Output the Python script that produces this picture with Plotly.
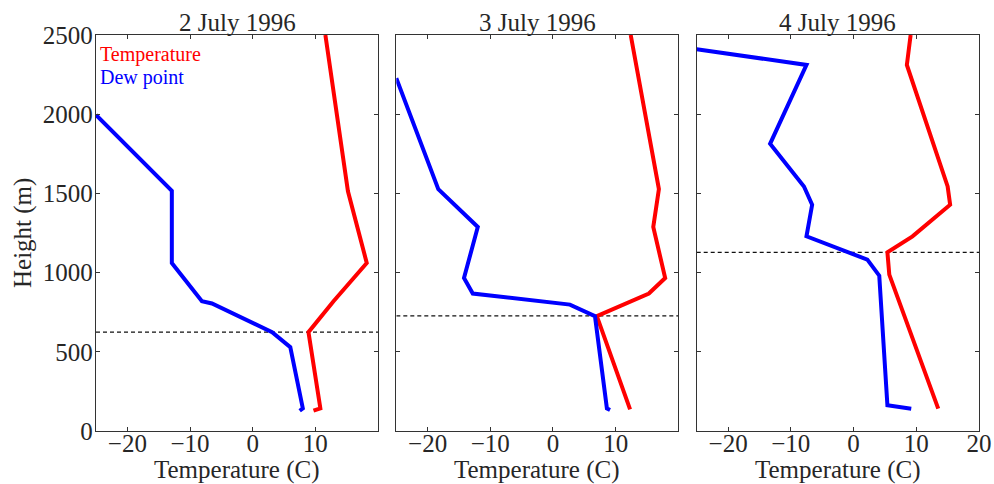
import plotly.graph_objects as go

# ---- data ----
days = ["2 July 1996", "3 July 1996", "4 July 1996"]

jul2_temp_h = [128, 143, 624, 819, 1061, 1513, 2500]
jul2_temp = [9.7, 10.8, 8.9, 12.9, 18.2, 15.2, 11.6]
jul2_dew_h = [128, 143, 529, 624, 805, 819, 1061, 1517, 1995]
jul2_dew = [7.5, 8.0, 6.0, 3.1, -6.5, -8.1, -12.9, -12.9, -25.0]

jul3_temp_h = [137, 725, 868, 966, 1288, 1527, 2500]
jul3_temp = [12.3, 7.0, 15.3, 17.9, 16.0, 16.9, 12.4]
jul3_dew_h = [133, 143, 725, 798, 868, 966, 1288, 1512, 1527, 2227]
jul3_dew = [9.1, 8.6, 6.7, 2.7, -12.8, -14.2, -12.0, -18.0, -18.3, -25.0]

jul4_temp_h = [141, 987, 1128, 1229, 1428, 1544, 2311, 2500]
jul4_temp = [13.5, 5.7, 5.4, 9.4, 15.4, 15.0, 8.5, 9.1]
jul4_dew_h = [141, 162, 981, 1082, 1229, 1428, 1544, 1813, 2311, 2410]
jul4_dew = [9.2, 5.4, 4.1, 2.2, -7.5, -6.6, -7.9, -13.3, -7.5, -25.0]

cloud_base = [624, 727, 1128]

x_range = [-25, 20]
y_range = [0, 2500]
y_ticks = [0, 500, 1000, 1500, 2000, 2500]
x_tick_all = [-20, -10, 0, 10, 20]
x_ticks_first = [-20, -10, 0, 10]
x_ticks_last = [-20, -10, 0, 10, 20]

temps = [(jul2_temp, jul2_temp_h), (jul3_temp, jul3_temp_h), (jul4_temp, jul4_temp_h)]
dews = [(jul2_dew, jul2_dew_h), (jul3_dew, jul3_dew_h), (jul4_dew, jul4_dew_h)]

FONT = "Liberation Serif"
TXT = "#262626"
FRAME = "#333333"
FS = 25

def fmt(v):
    return ("\u2212" + str(abs(v))) if v < 0 else str(v)

fig = go.Figure()
domains = [[0.0, 0.3194], [0.3401, 0.6595], [0.6803, 1.0]]

for i in range(3):
    xa = "x" if i == 0 else f"x{i+1}"
    ya = "y" if i == 0 else f"y{i+1}"
    fig.add_trace(go.Scatter(x=list(x_range), y=[cloud_base[i], cloud_base[i]],
                             mode="lines", line=dict(color="#111111", width=1.3, dash="4px,3px"),
                             xaxis=xa, yaxis=ya, showlegend=False, hoverinfo="skip"))
    fig.add_trace(go.Scatter(x=temps[i][0], y=temps[i][1], mode="lines",
                             line=dict(color="#ff0000", width=4),
                             xaxis=xa, yaxis=ya, showlegend=False))
    fig.add_trace(go.Scatter(x=dews[i][0], y=dews[i][1], mode="lines",
                             line=dict(color="#0000ff", width=4),
                             xaxis=xa, yaxis=ya, showlegend=False))

layout = dict(
    width=994, height=484,
    margin=dict(l=96, r=15, t=35, b=53),
    paper_bgcolor="white", plot_bgcolor="white",
    font=dict(family=FONT, size=FS, color=TXT),
)
for i in range(3):
    xk = "xaxis" if i == 0 else f"xaxis{i+1}"
    yk = "yaxis" if i == 0 else f"yaxis{i+1}"
    xt = x_ticks_last if i == 2 else x_ticks_first
    layout[xk] = dict(
        domain=domains[i], range=x_range, anchor="y" if i == 0 else f"y{i+1}",
        showline=True, mirror="ticks", linecolor=FRAME, linewidth=1.3,
        ticks="inside", ticklen=4, tickwidth=1, tickcolor=FRAME,
        tickvals=x_tick_all, ticktext=[fmt(v) if v in xt else "" for v in x_tick_all],
        showgrid=False, zeroline=False, automargin=False, ticklabelstandoff=-10,
        ticklabeloverflow="allow",
        tickfont=dict(size=FS, family=FONT, color=TXT),
    )
    layout[yk] = dict(
        range=y_range, anchor="x" if i == 0 else f"x{i+1}",
        showline=True, mirror="ticks", linecolor=FRAME, linewidth=1.3,
        ticks="inside", ticklen=4, tickwidth=1, tickcolor=FRAME,
        tickvals=y_ticks, ticktext=[str(v) for v in y_ticks] if i == 0 else [""] * len(y_ticks),
        showgrid=False, zeroline=False, automargin=False, ticklabelstandoff=-3,
        ticklabeloverflow="allow",
        tickfont=dict(size=FS, family=FONT, color=TXT),
    )
fig.update_layout(**layout)

for i in range(3):
    cx = (domains[i][0] + domains[i][1]) / 2
    fig.add_annotation(text=days[i], xref="paper", yref="paper",
                       x=cx, y=1.0, xanchor="center", yanchor="middle",
                       yshift=12.5, showarrow=False, font=dict(size=FS, family=FONT, color=TXT))
    fig.add_annotation(text="Temperature (C)", xref="paper", yref="paper",
                       x=cx, y=0.0, xanchor="center", yanchor="middle",
                       yshift=-38.5, showarrow=False, font=dict(size=FS, family=FONT, color=TXT))

fig.add_annotation(text="Height (m)", xref="paper", yref="paper", x=0.0, y=0.5,
                   xanchor="center", yanchor="middle", xshift=-73, textangle=-90,
                   showarrow=False, font=dict(size=FS, family=FONT, color=TXT))

fig.add_annotation(text="Temperature", xref="paper", yref="paper", x=0.0, y=1.0,
                   xanchor="left", yanchor="middle", xshift=2, yshift=-19.3, showarrow=False,
                   font=dict(size=20, family=FONT, color="#ff0000"))
fig.add_annotation(text="Dew point", xref="paper", yref="paper", x=0.0, y=1.0,
                   xanchor="left", yanchor="middle", xshift=2, yshift=-42.3, showarrow=False,
                   font=dict(size=20, family=FONT, color="#0000ff"))

fig.write_html("out.html", config={"displayModeBar": False},
               post_script="document.body.style.margin='0';document.body.style.overflow='hidden';")
